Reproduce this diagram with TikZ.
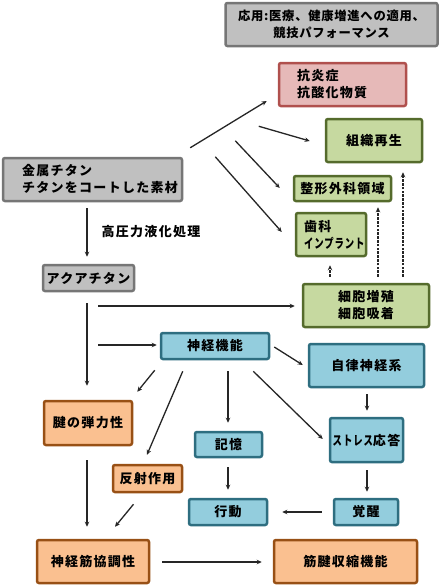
\documentclass[tikz,border=0pt]{standalone}
\usepackage{fontspec}
\usepackage{graphicx}
\setmainfont{Noto Sans CJK JP}
\usetikzlibrary{arrows.meta,calc}
\definecolor{gfill}{HTML}{C0C0C0}
\definecolor{gline}{HTML}{767676}
\definecolor{rfill}{HTML}{E6B9B8}
\definecolor{rline}{HTML}{B0504D}
\definecolor{grfill}{HTML}{C6D9A0}
\definecolor{grline}{HTML}{556B2C}
\definecolor{bfill}{HTML}{93CDDD}
\definecolor{bline}{HTML}{2E6E80}
\definecolor{ofill}{HTML}{FAC090}
\definecolor{oline}{HTML}{985015}
\newcommand{\narrow}[1]{\scalebox{0.72}[1]{#1}}
\begin{document}
\begin{tikzpicture}[x=1pt,y=-1pt,
  box/.style={draw, line width=2.5pt, rounded corners=2pt, inner sep=0pt,
    font=\bfseries\fontsize{13}{17}\selectfont\addfontfeatures{LetterSpace=10}},
  graybox/.style={box, draw=gline, fill=gfill},
  redbox/.style={box, draw=rline, fill=rfill},
  greenbox/.style={box, draw=grline, fill=grfill},
  bluebox/.style={box, draw=bline, fill=bfill},
  orangebox/.style={box, draw=oline, fill=ofill},
  arr/.style={line width=1.3pt, draw=black!85, -{Stealth[length=5pt,width=4.5pt]}},
  darr/.style={arr, dash pattern=on 2.5pt off 1.3pt},
  lbl/.style={font=\bfseries\fontsize{13}{17}\selectfont\addfontfeatures{LetterSpace=10}}
]
\useasboundingbox[fill=white] (0,0) rectangle (440,587);

% boxes
\node[graybox, minimum width=212pt, minimum height=43pt, align=center,
  font=\bfseries\fontsize{12.3}{17}\selectfont\addfontfeatures{LetterSpace=6}]
  (app) at (331.5,24.5) {応用:医療、健康増進への適用、\\競技パフォーマンス};
\node[redbox, minimum height=43pt, align=left, text width=91pt, inner xsep=18pt]
  (red) at (342.5,84.5) {抗炎症\\抗酸化物質};
\node[greenbox, minimum width=96pt, minimum height=43pt] (soshiki) at (374,140.5) {組織再生};
\node[greenbox, minimum width=97pt, minimum height=25pt] (seikei) at (342.5,188.5) {整形外科領域};
\node[greenbox, minimum height=43pt, align=left, text width=54pt, inner xsep=8pt]
  (shika) at (331,234.5) {歯科\\\narrow{インプラント}};
\node[graybox, minimum height=43pt, align=left, text width=141pt, inner xsep=19pt]
  (metal) at (92.5,179.5) {金属チタン\\チタンをコートした素材};
\node[graybox, minimum width=91pt, minimum height=26pt] (aqua) at (88.5,278) {アクアチタン};
\node[greenbox, minimum width=126pt, minimum height=43pt, align=center]
  (saibou) at (366,305.5) {細胞増殖\\細胞吸着};
\node[bluebox, minimum width=108pt, minimum height=26pt] (shinkei) at (215,346) {神経機能};
\node[bluebox, minimum width=115pt, minimum height=43pt] (jiritsu) at (366.5,365.5) {自律神経系};
\node[orangebox, minimum width=88pt, minimum height=44pt] (ken) at (88,423) {腱の弾力性};
\node[bluebox, minimum width=67pt, minimum height=25pt] (kioku) at (228.5,444.5) {記憶};
\node[bluebox, minimum width=73pt, minimum height=44pt] (stress) at (366.5,440)
  {\narrow{ストレス}応答};
\node[orangebox, minimum width=69pt, minimum height=27pt] (hansha) at (147.5,478.5) {反射作用};
\node[bluebox, minimum width=78pt, minimum height=26pt] (koudou) at (228,512) {行動};
\node[bluebox, minimum width=64pt, minimum height=26pt] (kakusei) at (366,512) {覚醒};
\node[orangebox, minimum width=112pt, minimum height=43pt] (kyouchou) at (93,561.5) {神経筋協調性};
\node[orangebox, minimum width=143pt, minimum height=43pt] (kinken) at (345.5,561.5) {筋腱収縮機能};

% label
\node[lbl] (proc) at (151,232) {高圧力液化処理};

% fan from metal
\coordinate (f1) at ([shift={(7,-9)}]metal.north east);
\coordinate (f2) at ([shift={(-19,19)}]red.south west);
\coordinate (f3) at ([shift={(52,-16)}]metal.north east);
\coordinate (f4) at ([shift={(32,0)}]metal.north east);
\draw[arr] (f1) -- ([shift={(-11,16.5)}]red.west);
\draw[arr] (f2) -- ([shift={(-15,0.5)}]soshiki.west);
\draw[arr] (f3) -- ([shift={(-13,-0.5)}]seikei.west);
\draw[arr] (f4) -- ([shift={(-13,-2.5)}]shika.west);

% metal -> aqua
\draw[arr] ([shift={(-1.5,6)}]metal.south -| aqua.north) -- ([shift={(-1.5,-7)}]aqua.north);
% aqua -> ken
\draw[arr] ([shift={(-1.5,11)}]aqua.south) -- ([shift={(-1,-14)}]ken.north);
% aqua branch -> saibou, shinkei
\coordinate (a1) at (98,306);
\coordinate (a2) at (98,345);
\draw[arr] (a1) -- ([shift={(-7,0.5)}]saibou.west);
\draw[arr] (a2) -- ([shift={(-3,-1)}]shinkei.west);
% ken -> kyouchou
\draw[arr] ([shift={(-1,14)}]ken.south) -- ([shift={(-6,-12)}]kyouchou.north);

% shinkei fan
\draw[arr] ([shift={(4,1)}]shinkei.east) -- ([shift={(-5,-0.5)}]jiritsu.west);
\draw[arr] ([shift={(-5,10)}]shinkei.south west) -- ([shift={(4,-8)}]ken.north east);
\draw[arr] ([shift={(23,11)}]shinkei.south west) -- ([shift={(-0.5,-9)}]hansha.north);
\draw[arr] ([shift={(13,11)}]shinkei.south) -- ([shift={(-0.5,-8)}]kioku.north);
\draw[arr] ([shift={(-17,11)}]shinkei.south east) -- ([shift={(-6,-1)}]stress.west);

% right column
\draw[arr] ([shift={(0.5,6)}]jiritsu.south) -- ([shift={(0.5,-6)}]stress.north);
\draw[arr] ([shift={(0.5,7)}]stress.south) -- ([shift={(1,-6)}]kakusei.north);
\draw[arr] ([shift={(-0.5,9)}]kioku.south) -- ([shift={(0,-8)}]koudou.north);
\draw[arr] ([shift={(-11,0)}]kakusei.west) -- ([shift={(14,0)}]koudou.east);
\draw[arr] ([shift={(-14,11)}]hansha.south) -- ([shift={(22,-12)}]kyouchou.north);
\draw[arr] ([shift={(12,0.5)}]kyouchou.east) -- ([shift={(-11,0.5)}]kinken.west);

% dashed up from saibou
\draw[darr] ([shift={(-36,-6)}]saibou.north) -- ([shift={(-1,8)}]shika.south);
\draw[darr] ([shift={(12,-6)}]saibou.north) -- ([shift={(35.5,5)}]seikei.south);
\draw[darr] ([shift={(37,-6)}]saibou.north) -- ([shift={(29,9)}]soshiki.south);
\end{tikzpicture}
\end{document}
